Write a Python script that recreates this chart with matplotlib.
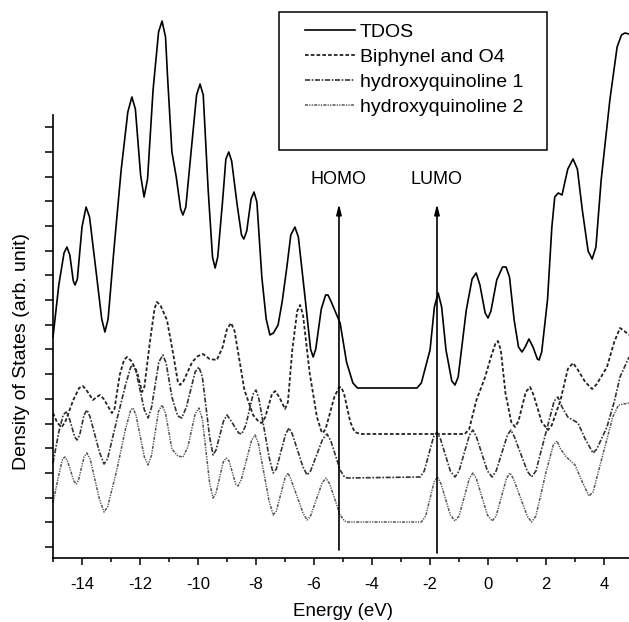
import numpy as np
import matplotlib.pyplot as plt
from matplotlib.lines import Line2D
from matplotlib.patches import Rectangle

plt.rcParams['font.family'] = ['Liberation Sans', 'DejaVu Sans']
plt.rcParams['axes.unicode_minus'] = False

# energies (eV) and densities (arb. unit)
e_tdos = [-15.0, -14.8, -14.62, -14.52, -14.42, -14.3, -14.24, -14.16, -14.0, -13.86,
          -13.74, -13.5, -13.32, -13.21, -13.1, -12.9, -12.65, -12.42, -12.28, -12.16,
          -11.98, -11.86, -11.74, -11.55, -11.36, -11.24, -11.12, -11.05, -10.9, -10.75,
          -10.6, -10.52, -10.42, -10.2, -10.05, -9.93, -9.82, -9.65, -9.5, -9.41,
          -9.32, -9.15, -9.04, -8.94, -8.84, -8.65, -8.5, -8.42, -8.32, -8.17,
          -8.07, -7.97, -7.8, -7.65, -7.52, -7.4, -7.24, -7.1, -6.95, -6.8,
          -6.66, -6.54, -6.3, -6.12, -6.03, -5.94, -5.75, -5.6, -5.52, -5.42,
          -5.1, -4.88, -4.66, -4.5, -2.45, -2.3, -2.0, -1.85, -1.72, -1.6,
          -1.45, -1.25, -1.14, -1.03, -0.75, -0.55, -0.41, -0.28, -0.1, 0.0,
          0.1, 0.3, 0.5, 0.62, 0.74, 0.9, 1.05, 1.17, 1.28, 1.41,
          1.55, 1.7, 1.76, 1.85, 2.05, 2.2, 2.3, 2.42, 2.55, 2.75,
          2.93, 3.08, 3.25, 3.45, 3.59, 3.72, 3.9, 4.2, 4.45, 4.6,
          4.72, 4.86]
tdos = [210, 262, 294, 300, 292, 266, 262, 268, 320, 340,
        330, 272, 228, 215, 228, 297, 377, 435, 450, 438,
        372, 350, 368, 457, 515, 526, 510, 470, 395, 370,
        338, 332, 340, 407, 452, 463, 452, 357, 290, 279,
        290, 347, 388, 395, 386, 342, 312, 308, 316, 348,
        355, 345, 270, 228, 212, 214, 222, 245, 277, 312,
        320, 310, 247, 198, 190, 198, 238, 252, 252, 246,
        224, 185, 164, 159, 159, 164, 197, 240, 254, 240,
        197, 166, 162, 170, 237, 268, 274, 262, 234, 229,
        236, 267, 280, 280, 270, 227, 200, 195, 200, 208,
        200, 188, 187, 195, 247, 320, 350, 354, 352, 378,
        388, 378, 337, 296, 288, 300, 367, 447, 500, 512,
        514, 513]

e_bip = [-15.0, -14.85, -14.7, -14.58, -14.3, -14.1, -13.97, -13.85, -13.62, -13.5,
         -13.38, -13.25, -12.97, -12.88, -12.7, -12.55, -12.45, -12.3, -12.1, -11.93,
         -11.85, -11.65, -11.5, -11.42, -11.3, -11.07, -10.85, -10.7, -10.62, -10.5,
         -10.2, -10.0, -9.83, -9.6, -9.35, -9.15, -9.0, -8.86, -8.74, -8.4,
         -8.1, -7.9, -7.8, -7.68, -7.45, -7.34, -7.2, -7.0, -6.9, -6.75,
         -6.58, -6.48, -6.38, -6.15, -5.9, -5.75, -5.7, -5.6, -5.3, -5.15,
         -5.07, -4.97, -4.75, -4.6, -4.4, -0.8, -0.65, -0.4, -0.1, 0.1,
         0.25, 0.34, 0.44, 0.6, 0.8, 0.93, 1.05, 1.3, 1.45, 1.57,
         1.85, 2.07, 2.2, 2.5, 2.75, 2.93, 3.08, 3.35, 3.59, 3.75,
         4.1, 4.35, 4.55, 4.7, 4.86]
bip = [134, 124, 120, 125, 147, 159, 161, 157, 147, 150,
       152, 148, 134, 138, 172, 187, 190, 186, 175, 155,
       160, 207, 238, 245, 242, 227, 192, 166, 162, 166,
       185, 191, 193, 188, 187, 200, 218, 224, 216, 157,
       132, 125, 124, 130, 153, 156, 150, 138, 145, 197,
       236, 242, 232, 174, 130, 116, 114, 118, 150, 159,
       160, 154, 125, 115, 113, 113, 118, 147, 170, 190,
       203, 206, 197, 154, 125, 120, 126, 155, 160, 152,
       125, 117, 122, 147, 178, 184, 178, 165, 158, 163,
       180, 205, 219, 216, 212]

e_hq1 = [-15.0, -14.8, -14.65, -14.55, -14.45, -14.25, -14.17, -14.08, -13.93, -13.83,
         -13.72, -13.4, -13.24, -13.12, -12.8, -12.5, -12.32, -12.24, -12.14, -11.85,
         -11.72, -11.6, -11.35, -11.21, -11.1, -10.9, -10.7, -10.56, -10.4, -10.1,
         -9.97, -9.85, -9.6, -9.48, -9.38, -9.12, -9.0, -8.88, -8.6, -8.49,
         -8.35, -8.1, -8.0, -7.9, -7.55, -7.41, -7.3, -6.98, -6.86, -6.75,
         -6.38, -6.24, -6.12, -5.7, -5.55, -5.42, -5.1, -4.95, -4.85, -2.34,
         -2.2, -1.88, -1.76, -1.64, -1.3, -1.14, -1.0, -0.64, -0.52, -0.4,
         -0.02, 0.14, 0.28, 0.67, 0.79, 0.91, 1.35, 1.5, 1.65, 2.0,
         2.28, 2.41, 2.55, 2.75, 3.1, 3.35, 3.62, 3.75, 4.1, 4.35,
         4.55, 4.86]
hq1 = [84, 115, 132, 135, 130, 110, 107, 112, 132, 137,
       130, 95, 83, 88, 127, 162, 180, 182, 176, 137,
       129, 140, 185, 192, 184, 150, 131, 129, 140, 175,
       180, 170, 110, 92, 97, 126, 132, 127, 114, 113,
       122, 153, 157, 148, 90, 74, 78, 113, 119, 113,
       80, 72, 76, 108, 113, 106, 77, 70, 69, 70,
       76, 110, 115, 108, 76, 70, 76, 112, 117, 110,
       76, 70, 76, 112, 117, 110, 76, 70, 76, 115,
       146, 150, 140, 130, 124, 108, 94, 98, 120, 145,
       170, 190]

e_hq2 = [-15.0, -14.8, -14.67, -14.59, -14.5, -14.28, -14.2, -14.12, -13.93, -13.83,
         -13.72, -13.4, -13.24, -13.12, -12.8, -12.5, -12.32, -12.24, -12.14, -11.85,
         -11.72, -11.6, -11.36, -11.24, -11.12, -10.9, -10.7, -10.52, -10.35, -10.1,
         -9.97, -9.85, -9.6, -9.48, -9.38, -9.13, -9.03, -8.93, -8.7, -8.62,
         -8.5, -8.15, -8.03, -7.92, -7.55, -7.41, -7.3, -7.0, -6.9, -6.8,
         -6.38, -6.24, -6.12, -5.72, -5.59, -5.46, -5.1, -4.95, -4.85, -2.3,
         -2.15, -1.86, -1.74, -1.62, -1.3, -1.14, -1.0, -0.64, -0.52, -0.4,
         -0.02, 0.14, 0.28, 0.64, 0.76, 0.88, 1.35, 1.5, 1.65, 2.0,
         2.25, 2.38, 2.5, 2.7, 3.0, 3.25, 3.48, 3.62, 4.0, 4.3,
         4.5, 4.86]
hq2 = [44, 72, 88, 90, 86, 66, 63, 67, 90, 94,
       88, 48, 35, 40, 77, 118, 137, 139, 132, 90,
       82, 92, 136, 142, 134, 98, 91, 90, 100, 133,
       139, 128, 64, 49, 54, 85, 89, 86, 63, 61,
       68, 107, 112, 104, 46, 32, 36, 69, 74, 68,
       34, 27, 31, 64, 69, 63, 32, 26, 25, 25,
       31, 65, 70, 63, 32, 26, 31, 69, 74, 68,
       32, 26, 31, 69, 74, 68, 31, 25, 31, 75,
       102, 106, 98, 90, 82, 65, 51, 55, 97, 130,
       142, 144]

homo_e = -5.14
lumo_e = -1.76
labels = ['TDOS', 'Biphynel and O4', 'hydroxyquinoline 1', 'hydroxyquinoline 2']

fig = plt.figure(figsize=(6.29, 6.22), dpi=100)
ax = fig.add_axes([53/629, 64/622, 1 - 53/629, 1 - 64/622])

styles = [dict(color='black', lw=1.2, ls='-'),
          dict(color='#222222', lw=1.3, ls=(0, (2, 1.2))),
          dict(color='#333333', lw=1.2, ls=(0, (3, 1, 1, 1))),
          dict(color='#555555', lw=1.1, ls=(0, (2, 0.8, 0.8, 0.8, 0.8, 0.8)))]
series = [(e_tdos, tdos), (e_bip, bip), (e_hq1, hq1), (e_hq2, hq2)]
for (e, d), st in zip(series, styles):
    ax.plot(e, d, clip_on=False, solid_joinstyle='round', **st)

# HOMO / LUMO markers
for e0, name, bot in [(homo_e, 'HOMO', -3), (lumo_e, 'LUMO', -6)]:
    ax.annotate('', xy=(e0, 343), xytext=(e0, bot),
                arrowprops=dict(arrowstyle='-|>,head_length=0.6,head_width=0.15',
                                color='black', lw=1.2, shrinkA=0, shrinkB=0))
    ax.text(e0, 367, name, ha='center', va='center', fontsize=13)

ax.set_xlim(-15, 4.86)
ax.set_ylim(-11, 547)
ax.set_xticks(np.arange(-14, 5, 2))
ax.set_xticks(np.arange(-15, 5, 2), minor=True)
ax.set_yticks(np.arange(18) * 24.7)
ax.set_yticklabels([])
ax.tick_params(axis='x', which='major', direction='out', length=5, width=1.1,
               labelsize=12, pad=9)
ax.tick_params(axis='x', which='minor', direction='out', length=3, width=1.1)
ax.tick_params(axis='y', direction='out', length=6, width=1.1)
for s in ['top', 'right']:
    ax.spines[s].set_visible(False)
ax.spines['left'].set_bounds(-11, 432)
ax.spines['left'].set_linewidth(1.2)
ax.spines['bottom'].set_linewidth(1.2)
ax.patch.set_alpha(0)

fig.text(22/629, 1 - 351/622, 'Density of States (arb. unit)', rotation=90,
         ha='center', va='center', fontsize=14)
fig.text(343/629, 1 - 612/622, 'Energy (eV)', ha='center', va='center', fontsize=13.5)

handles = [Line2D([], [], **st) for st in styles]
fig.legend(handles, labels, loc='upper left', bbox_to_anchor=(305/629, 1 - 23/622),
           frameon=False, fontsize=14, handlelength=2.57, handletextpad=0.26,
           labelspacing=0.38, borderpad=0, borderaxespad=0)
fig.add_artist(Rectangle((279/629, 1 - 150/622), (547 - 279)/629, (150 - 12)/622,
                         transform=fig.transFigure, fill=False, lw=1.1, color='black'))

fig.savefig('out.png', dpi=100)
